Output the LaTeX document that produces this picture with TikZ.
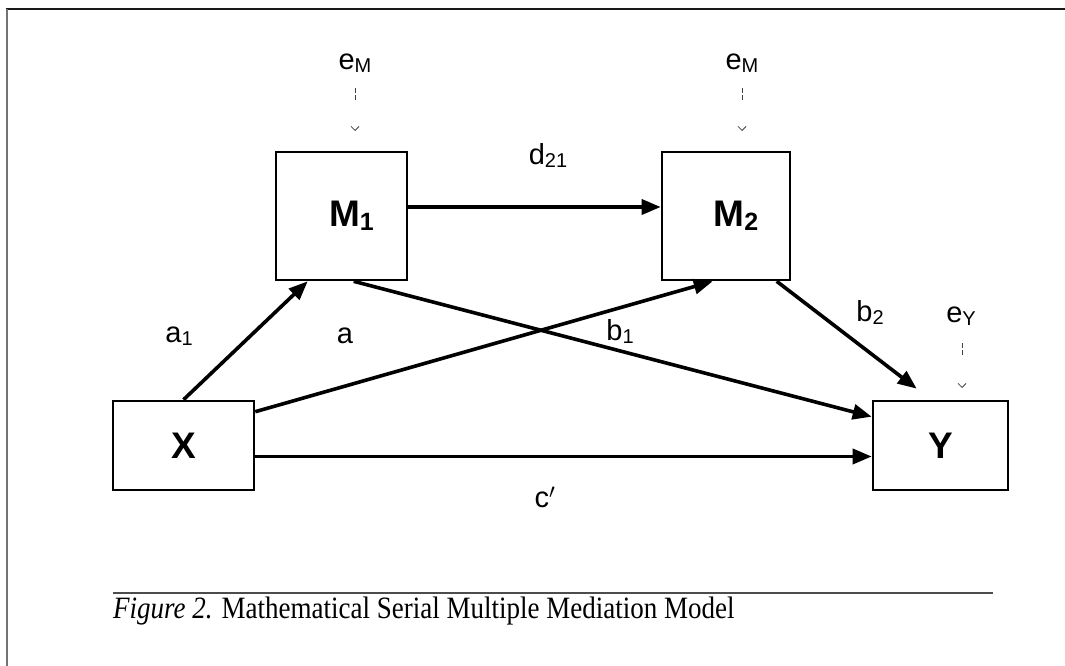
\documentclass[tikz,border=0pt]{standalone}
\usepackage{fontspec}
\setmainfont{Liberation Serif}
\setsansfont{Liberation Sans}
\usetikzlibrary{arrows.meta}
\newcommand\lsub[1]{\raisebox{-3pt}{\fontsize{20}{22}\selectfont #1}}
\newcommand\bsub[1]{\raisebox{-4pt}{\fontsize{25}{27}\selectfont #1}}
\tikzset{
  boxnode/.style={draw=black, line width=2.6pt, rectangle, inner sep=0pt,
    font=\sffamily\bfseries\fontsize{37}{40}\selectfont},
  lbl/.style={inner sep=0pt, font=\sffamily\fontsize{29}{32}\selectfont},
  arr/.style={line width=3.6pt, -{Triangle[length=19pt,width=15pt]}},
  err/.style={draw=black!75, line width=0.8pt, dash pattern=on 5pt off 2pt on 5pt off 80pt,
    -{Straight Barb[length=4pt,width=8pt,line width=0.8pt]}},
  framel/.style={line width=2pt}
}
\begin{document}
\begin{tikzpicture}[x=1pt,y=-1pt]
\useasboundingbox (0,0) rectangle (1065,666);
% frame
\draw[framel, black!90] (6,9) -- (1065,9);
\draw[framel, black!55] (7,9) -- (7,666);
% boxes
\node[boxnode, minimum width=141pt, minimum height=89pt] (X) at (183.5,445.5) {X};
\node[boxnode, minimum width=135pt, minimum height=89pt] (Y) at (940.5,445.5) {Y};
\node[boxnode, minimum width=131pt, minimum height=128pt] (M1) at (341.5,216) {\hspace*{20pt}M\bsub{1}};
\node[boxnode, minimum width=128pt, minimum height=128pt] (M2) at (726,216) {\hspace*{20pt}M\bsub{2}};
% paths
\draw[arr] (X.north) -- ([xshift=33pt]M1.south west);
\draw[arr] ([yshift=-12pt]X.north east) -- ([xshift=52pt]M2.south west);
\draw[arr] ([xshift=79pt]M1.south west) -- ([yshift=-17pt]Y.north west);
\draw[arr] ([xshift=116pt]M2.south west) -- ([xshift=45pt,yshift=11pt]Y.north west);
\draw[arr] ([yshift=-11pt]X.east) -- ([yshift=-11pt]Y.west);
\draw[arr] ([yshift=9pt]M1.east) -- ([yshift=9pt]M2.west);
% labels
\node[lbl] (d21) at (548,155) {d\lsub{21}};
\node[lbl] (a1) at (179,336) {a\lsub{1}};
\node[lbl] (a) at (345,336) {a};
\node[lbl] (b1) at (620,331) {b\lsub{1}};
\node[lbl] (b2) at (870,312) {b\lsub{2}};
\node[lbl] (cp) at (545,497) {c$'$};
% error terms
\node[lbl] (eM1) at (355,63) {e\lsub{M}};
\node[lbl] (eM2) at (742,63) {e\lsub{M}};
\node[lbl] (eY) at (961,316) {e\lsub{Y}};
\coordinate (sM1) at (355,88);
\coordinate (tM1) at (355,131);
\coordinate (sM2) at (742,88);
\coordinate (tM2) at (742,131);
\coordinate (sY) at (962,343);
\coordinate (tY) at (962,388);
\draw[err] (sM1) -- (tM1);
\draw[err] (sM2) -- (tM2);
\draw[err] (sY) -- (tY);
% caption
\draw[line width=1.5pt, black!70] (113,593) -- (993,593);
\node[anchor=base west, inner sep=0pt, font=\fontsize{27}{30}\selectfont] (cap) at (113,618)
  {\scalebox{1}[1.15]{\textit{Figure 2.} Mathematical Serial Multiple Mediation Model}};
\end{tikzpicture}
\end{document}
